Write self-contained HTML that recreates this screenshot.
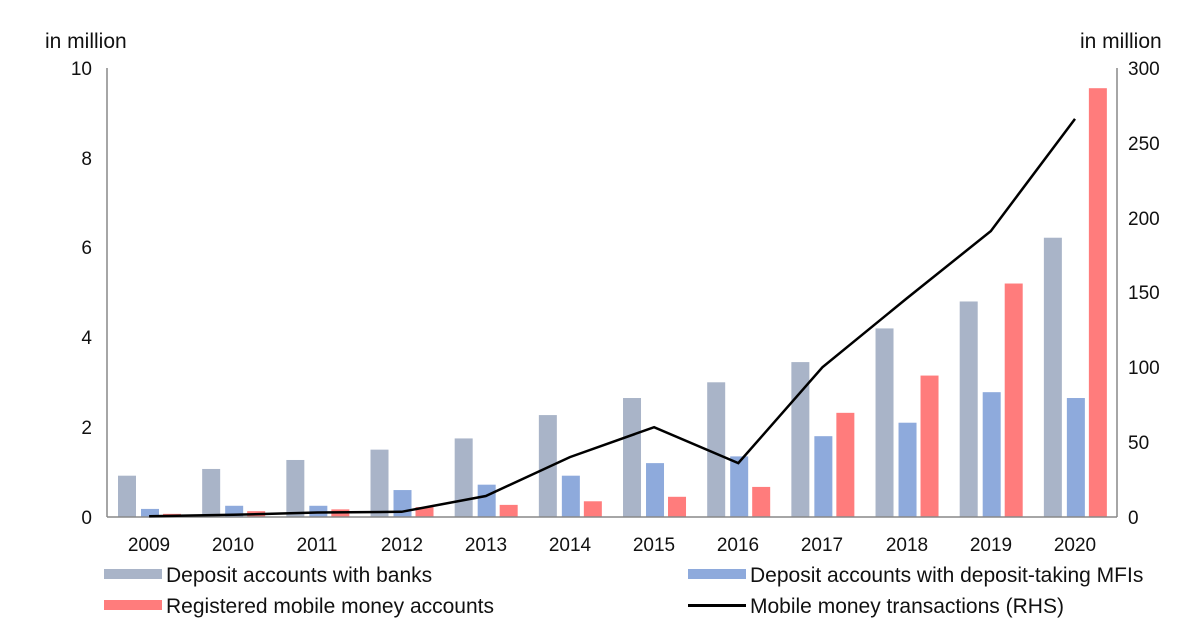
<!DOCTYPE html>
<html><head><meta charset="utf-8"><style>
body{margin:0;background:#fff;}
svg{display:block;font-family:"Liberation Sans",Arial,sans-serif;}
</style></head><body>
<svg id="c" width="1200" height="639" viewBox="0 0 1200 639">
<g font-size="19" fill="#111">
<text x="45" y="48" font-size="21">in million</text>
<text x="1080" y="48" font-size="21">in million</text>
<g text-anchor="end">
<text x="92" y="75">10</text><text x="92" y="165">8</text><text x="92" y="254">6</text>
<text x="92" y="344">4</text><text x="92" y="434">2</text><text x="92" y="524">0</text>
</g>
<g text-anchor="start">
<text x="1128" y="75">300</text><text x="1128" y="150">250</text><text x="1128" y="225">200</text>
<text x="1128" y="299">150</text><text x="1128" y="374">100</text><text x="1128" y="449">50</text><text x="1128" y="524">0</text>
</g>
<g text-anchor="middle">
<text x="149" y="551">2009</text><text x="233" y="551">2010</text><text x="317" y="551">2011</text>
<text x="402" y="551">2012</text><text x="486" y="551">2013</text><text x="570" y="551">2014</text>
<text x="654" y="551">2015</text><text x="738" y="551">2016</text><text x="822" y="551">2017</text>
<text x="907" y="551">2018</text><text x="991" y="551">2019</text><text x="1075" y="551">2020</text>
</g>
<g font-size="21">
<rect x="104" y="569" width="58" height="10" fill="#a9b4c8"/>
<text x="166" y="582">Deposit accounts with banks</text>
<rect x="688" y="569" width="58" height="10" fill="#8eaadc"/>
<text x="750" y="582">Deposit accounts with deposit-taking MFIs</text>
<rect x="104" y="600" width="58" height="10" fill="#ff7c7c"/>
<text x="166" y="613">Registered mobile money accounts</text>
<rect x="688" y="604" width="58" height="3" fill="#000"/>
<text x="750" y="613">Mobile money transactions (RHS)</text>
</g>
</g>
<g id="bars"></g>
<line x1="107" y1="68" x2="107" y2="517" stroke="#888" stroke-width="1.5"/>
<line x1="1117" y1="68" x2="1117" y2="517" stroke="#888" stroke-width="1.5"/>
<line x1="107" y1="517" x2="1117" y2="517" stroke="#888" stroke-width="1.5"/>
<polyline id="ln" fill="none" stroke="#000" stroke-width="2.5"/>
</svg>
<script>
var g=[0.92,1.07,1.27,1.5,1.75,2.27,2.65,3.0,3.45,4.2,4.8,6.22];
var b=[0.18,0.25,0.25,0.6,0.72,0.92,1.2,1.35,1.8,2.1,2.78,2.65];
var r=[0.07,0.13,0.17,0.22,0.27,0.35,0.45,0.67,2.32,3.15,5.2,9.55];
var l=[0.5,1.5,3,3.5,14,40,60,36,100,146,191,266];
var ns="http://www.w3.org/2000/svg",B=document.getElementById("bars"),pts=[];
var W=84.17,y0=517,k=44.9;
function bar(x,v,c){var e=document.createElementNS(ns,"rect");e.setAttribute("x",x);e.setAttribute("width",18);e.setAttribute("y",y0-v*k);e.setAttribute("height",v*k);e.setAttribute("fill",c);B.appendChild(e);}
for(var i=0;i<12;i++){var s=107+i*W;
bar(s+11,g[i],"#a9b4c8");bar(s+34,b[i],"#8eaadc");bar(s+56,r[i],"#ff7c7c");
pts.push((s+W/2).toFixed(1)+","+(y0-l[i]/300*449).toFixed(1));}
document.getElementById("ln").setAttribute("points",pts.join(" "));
</script>
</body></html>
